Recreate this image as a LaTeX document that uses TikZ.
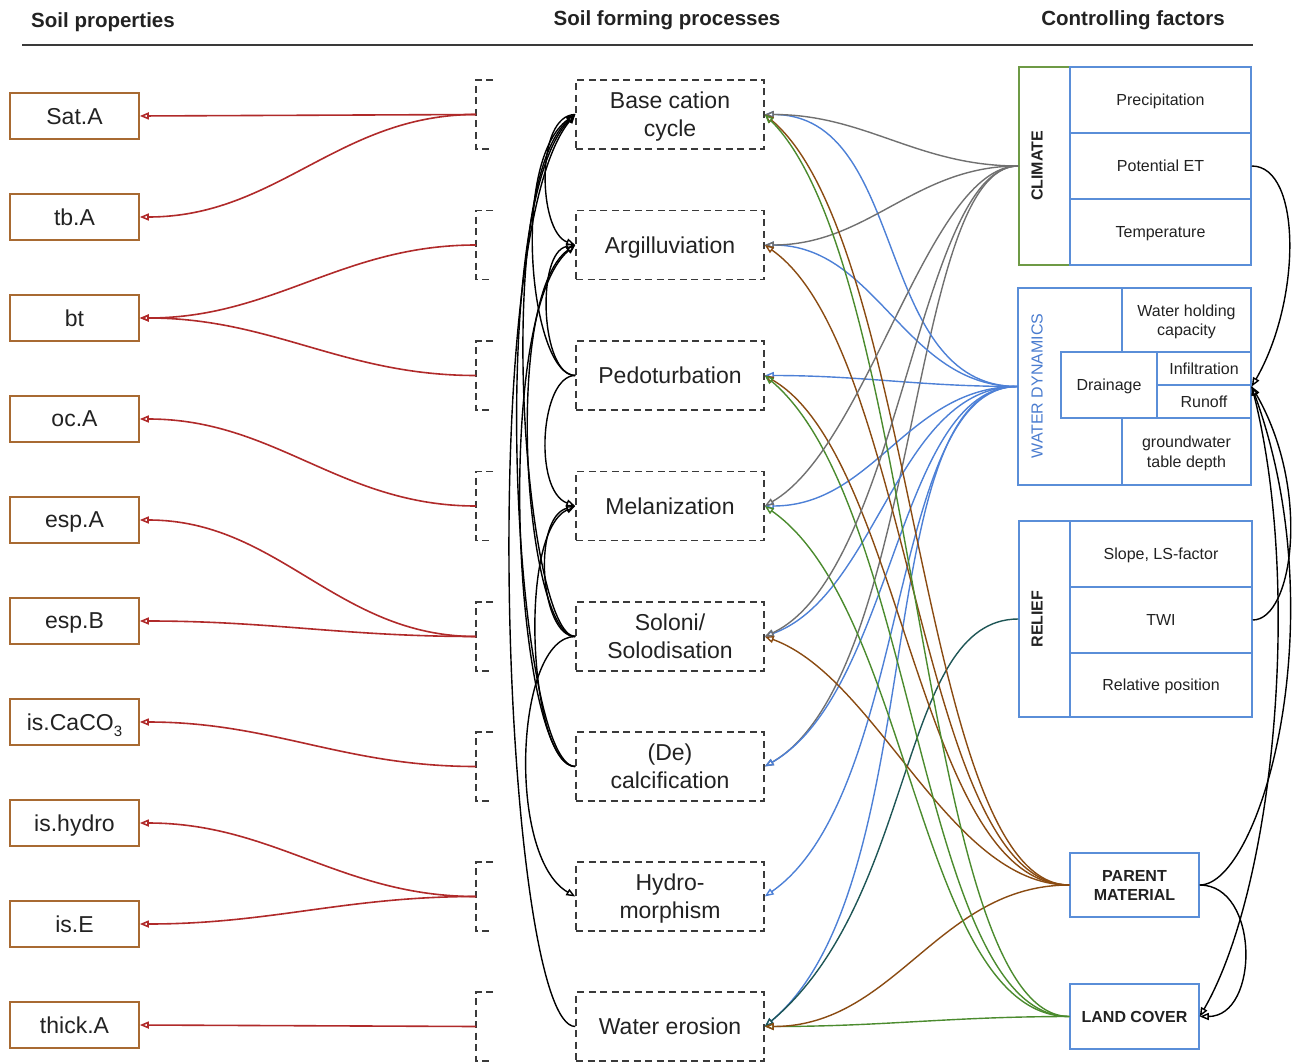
\documentclass[tikz,border=0pt]{standalone}
\usepackage{fontspec}
\setmainfont{Liberation Sans}
\usetikzlibrary{arrows.meta}

\definecolor{propbrown}{HTML}{A86A32}
\definecolor{redline}{HTML}{B02A2A}
\definecolor{dashgray}{HTML}{3A3A3A}
\definecolor{boxblue}{HTML}{5A8ED8}
\definecolor{climgreen}{HTML}{6E9A45}
\definecolor{wdblue}{HTML}{4A7CCF}
\definecolor{lgray}{HTML}{707070}
\definecolor{lblue}{HTML}{4D80D6}
\definecolor{lbrown}{HTML}{8A4B12}
\definecolor{lgreen}{HTML}{4B8B2E}
\definecolor{lteal}{HTML}{1E5656}
\definecolor{txt}{HTML}{222222}

\tikzset{
  head/.style={font=\bfseries\fontsize{20.5}{24}\selectfont, text=txt, inner sep=0pt},
  prop/.style={draw=propbrown, line width=1.6pt, minimum width=129pt, minimum height=46pt,
    inner sep=0pt, text depth=0pt, font=\fontsize{23}{28}\selectfont, text=txt},
  proc/.style={draw=dashgray, line width=1.5pt, dash pattern=on 7pt off 4.5pt,
    minimum width=188pt, minimum height=69pt, inner sep=0pt, align=center, text depth=0pt,
    font=\fontsize{23}{28}\selectfont, text=txt},
  bracket/.style={draw=dashgray, line width=1.5pt, dash pattern=on 7pt off 4.5pt},
  cell/.style={draw=boxblue, line width=1.5pt, inner sep=0pt, align=center, text depth=0pt,
    font=\fontsize{16}{19.5}\selectfont, text=txt},
  vlabel/.style={rotate=90, font=\bfseries\fontsize{16}{19}\selectfont, text=txt, inner sep=0pt},
  tipo/.style={-{Triangle[open,length=9pt,width=7pt]}},
  redarr/.style={tipo, draw=redline, line width=1.6pt},
  blk/.style={tipo, draw=black, line width=1.4pt},
  cgray/.style={tipo, draw=lgray, line width=1.4pt},
  cblue/.style={tipo, draw=lblue, line width=1.4pt},
  cbrown/.style={tipo, draw=lbrown, line width=1.4pt},
  cgreen/.style={tipo, draw=lgreen, line width=1.4pt},
  cteal/.style={tipo, draw=lteal, line width=1.4pt},
}

\begin{document}
\begin{tikzpicture}[x=1pt,y=1pt]
\useasboundingbox (0,0) rectangle (1311,-1062);

% ---------- column headings ----------
\node[head] (h1) at (103,-22) {Soil properties};
\node[head] (h2) at (667,-20) {Soil forming processes};
\node[head] (h3) at (1133,-20) {Controlling factors};
\draw[line width=2pt, draw=dashgray] (22,-45) -- (1253,-45);

% ---------- soil properties ----------
\node[prop] (satA)  at (74.5,-116) {Sat.A};
\node[prop] (tbA)   at (74.5,-217) {tb.A};
\node[prop] (bt)    at (74.5,-318) {bt};
\node[prop] (ocA)   at (74.5,-419) {oc.A};
\node[prop] (espA)  at (74.5,-520) {esp.A};
\node[prop] (espB)  at (74.5,-621) {esp.B};
\node[prop] (isCa)  at (74.5,-722) {is.CaCO\raisebox{-6pt}[0pt][0pt]{\fontsize{15}{15}\selectfont 3}};
\node[prop] (ishyd) at (74.5,-823) {is.hydro};
\node[prop] (isE)   at (74.5,-924) {is.E};
\node[prop] (thA)   at (74.5,-1025) {thick.A};

% ---------- soil forming processes ----------
\node[proc] (base)  at (670,-114.5) {Base cation\\cycle};
\node[proc] (argil) at (670,-245)   {Argilluviation};
\node[proc] (pedo)  at (670,-375.5) {Pedoturbation};
\node[proc] (melan) at (670,-506)   {Melanization};
\node[proc] (solo)  at (670,-636.5) {Soloni/\\Solodisation};
\node[proc] (decal) at (670,-766.5) {(De)\\calcification};
\node[proc] (hydro) at (670,-896.5) {Hydro-\\morphism};
\node[proc] (eros)  at (670,-1026.5) {Water erosion};

% brackets in front of each process
\foreach \n/\y in {1/114.5,2/245,3/375.5,4/506,5/636.5,6/766.5,7/896.5,8/1026.5}{
  \coordinate (br\n) at (476,-\y);
  \draw[bracket] ([shift={(17,34.5)}]br\n) -- ([shift={(0,34.5)}]br\n)
     -- ([shift={(0,-34.5)}]br\n) -- ([shift={(17,-34.5)}]br\n);
}

% ---------- processes -> properties ----------
\draw[redarr] (br1) -- (satA.east);
\draw[redarr] (br1) to[out=180,in=0] (tbA.east);
\draw[redarr] (br2) to[out=180,in=0] (bt.east);
\draw[redarr] (br3) to[out=180,in=0] (bt.east);
\draw[redarr] (br4) to[out=180,in=0] (ocA.east);
\draw[redarr] (br5) to[out=180,in=0] (espA.east);
\draw[redarr] (br5) to[out=180,in=0] (espB.east);
\draw[redarr] (br6) to[out=180,in=0] (isCa.east);
\draw[redarr] (br7) to[out=180,in=0] (ishyd.east);
\draw[redarr] (br7) to[out=180,in=0] (isE.east);
\draw[redarr] (br8) -- (thA.east);

% ---------- interactions between processes ----------
\draw[blk] (base.west)  to[out=180,in=160,out distance=40,in distance=40] (argil.west);
\draw[blk] (pedo.west)  to[out=180,in=215,out distance=45,in distance=80] (base.west);
\draw[blk] (pedo.west)  to[out=180,in=190,out distance=35,in distance=40] (argil.west);
\draw[blk] (pedo.west)  to[out=180,in=160,out distance=35,in distance=45] (melan.west);
\draw[blk] (solo.west)  to[out=180,in=220,out distance=50,in distance=110] (base.west);
\draw[blk] (solo.west)  to[out=180,in=215,out distance=50,in distance=90] (argil.west);
\draw[blk] (solo.west)  to[out=180,in=195,out distance=35,in distance=45] (melan.west);
\draw[blk] (solo.west)  to[out=180,in=150,out distance=60,in distance=80] (hydro.west);
\draw[blk] (decal.west) to[out=180,in=225,out distance=60,in distance=130] (base.west);
\draw[blk] (decal.west) to[out=180,in=220,out distance=60,in distance=110] (argil.west);
\draw[blk] (decal.west) to[out=180,in=205,out distance=45,in distance=65] (melan.west);
\draw[blk] (eros.west)  to[out=180,in=230,out distance=70,in distance=160] (base.west);

% ---------- controlling factors ----------
% climate
\node[cell, draw=climgreen, minimum width=51pt, minimum height=198pt] (climlab) at (1044.5,-166) {};
\node[vlabel] (climtxt) at (1037,-166) {CLIMATE};
\node[cell, minimum width=181pt, minimum height=66pt] (prec) at (1160.5,-100) {Precipitation};
\node[cell, minimum width=181pt, minimum height=66pt] (pet)  at (1160.5,-166) {Potential ET};
\node[cell, minimum width=181pt, minimum height=66pt] (temp) at (1160.5,-232) {Temperature};

% water dynamics
\node[cell, minimum width=233pt, minimum height=197pt] (wdbox) at (1134.5,-386.5) {};
\node[rotate=90, font=\fontsize{16}{19}\selectfont, text=wdblue, inner sep=0pt] (wdtxt) at (1037,-386) {WATER DYNAMICS};
\node[cell, minimum width=129pt, minimum height=64pt] (whc)  at (1186.5,-320) {Water holding\\capacity};
\node[cell, minimum width=96pt, minimum height=66pt] (drain) at (1109,-385) {Drainage};
\node[cell, minimum width=94pt, minimum height=33pt] (infil) at (1204,-368.5) {Infiltration};
\node[cell, minimum width=94pt, minimum height=33pt] (runof) at (1204,-401.5) {Runoff};
\node[cell, minimum width=129pt, minimum height=67pt] (gwt)  at (1186.5,-451.5) {groundwater\\table depth};

% relief
\node[cell, minimum width=51pt, minimum height=196pt] (rellab) at (1044.5,-619) {};
\node[vlabel] (reltxt) at (1037,-619) {RELIEF};
\node[cell, minimum width=182pt, minimum height=66pt] (slope) at (1161,-554) {Slope, LS-factor};
\node[cell, minimum width=182pt, minimum height=66pt] (twi)   at (1161,-620) {TWI};
\node[cell, minimum width=182pt, minimum height=64pt] (relpos) at (1161,-685) {Relative position};

% parent material, land cover
\node[cell, font=\bfseries\fontsize{16}{19}\selectfont, minimum width=129pt, minimum height=64pt] (pm) at (1134.5,-885) {PARENT\\MATERIAL};
\node[cell, font=\bfseries\fontsize{16}{19}\selectfont, minimum width=129pt, minimum height=65pt] (lc) at (1134.5,-1016.5) {LAND COVER};

% ---------- factors -> processes ----------
\draw[cgray]  (climlab.west) to[out=180,in=30,out distance=110,in distance=180] (decal.east);
% water dynamics
\draw[cblue] (wdbox.west) to[out=180,in=0] (base.east);
\draw[cblue] (wdbox.west) to[out=180,in=0] (argil.east);
\draw[cblue] (wdbox.west) to[out=180,in=0] (pedo.east);
\draw[cblue] (wdbox.west) to[out=180,in=0] (melan.east);
\draw[cblue] (wdbox.west) to[out=180,in=20,out distance=120,in distance=120] (solo.east);
\draw[cblue] (wdbox.west) to[out=180,in=30,out distance=120,in distance=150] (decal.east);
\draw[cblue] (wdbox.west) to[out=180,in=35,out distance=130,in distance=180] (hydro.east);
\draw[cblue] (wdbox.west) to[out=180,in=40,out distance=150,in distance=220] (eros.east);
% climate
\draw[cgray] (climlab.west) to[out=180,in=0] (base.east);
\draw[cgray] (climlab.west) to[out=180,in=0] (argil.east);
% relief
\draw[cteal] (rellab.west) to[out=180,in=40,out distance=120,in distance=200] (eros.east);
% land cover / parent material
\draw[cgreen] (lc.west) to[out=180,in=0] (eros.east);
\draw[cbrown] (pm.west) to[out=180,in=-40,out distance=150,in distance=200] (base.east);
\draw[cbrown] (pm.west) to[out=180,in=-35,out distance=150,in distance=180] (argil.east);
\draw[cbrown] (pm.west) to[out=180,in=-30,out distance=150,in distance=160] (pedo.east);
\draw[cbrown] (pm.west) to[out=180,in=-20,out distance=120,in distance=120] (solo.east);
\draw[cbrown] (pm.west) to[out=180,in=0] (eros.east);
\draw[cgreen] (lc.west) to[out=180,in=-45,out distance=150,in distance=220] (base.east);
\draw[cgreen] (lc.west) to[out=180,in=-40,out distance=150,in distance=200] (pedo.east);
\draw[cgreen] (lc.west) to[out=180,in=-35,out distance=150,in distance=180] (melan.east);
\draw[cgray] (climlab.west) to[out=180,in=30,out distance=90,in distance=120] (melan.east);
\draw[cgray] (climlab.west) to[out=180,in=25,out distance=100,in distance=150] (solo.east);

% ---------- links between factors ----------
\draw[blk] (pet.east) to[out=0,in=60,out distance=50,in distance=100] (wdbox.east);
\draw[blk] (twi.east) to[out=0,in=-60,out distance=40,in distance=120] (wdbox.east);
\draw[blk] (pm.east)  to[out=0,in=-70,out distance=60,in distance=250] (wdbox.east);
\draw[blk] (pm.east)  to[out=0,in=0,out distance=60,in distance=60] (lc.east);
\draw[blk] (wdbox.east) to[out=-75,in=60,out distance=200,in distance=150] (lc.east);
\end{tikzpicture}
\end{document}
